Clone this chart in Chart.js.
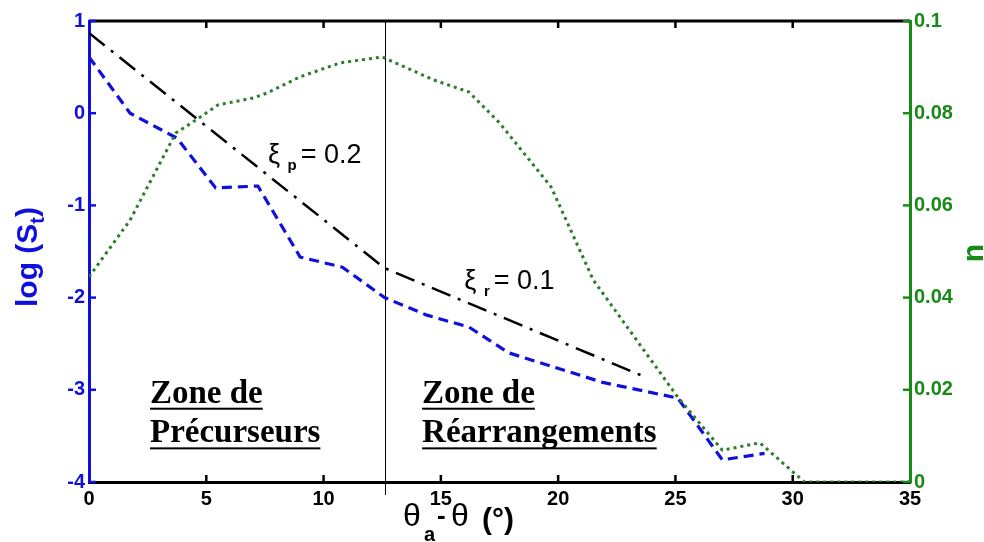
<!DOCTYPE html>
<html>
<head>
<meta charset="utf-8">
<script src="https://cdn.jsdelivr.net/npm/chart.js@4.4.1/dist/chart.umd.min.js"></script>
<style>
  html, body { margin: 0; padding: 0; background: #fff; }
</style>
</head>
<body>
<canvas id="chart" width="984" height="542"></canvas>
<script>
// angle theta_a - theta (deg) / log(St) , dashed blue
const angleSt = [0, 1.75, 3.75, 5.4, 7.2, 9.0, 10.8, 12.6, 14.4, 16.2, 17.9, 21.9, 25.1, 27.0, 28.8];
const logSt = [0.61, 0.0, -0.27, -0.81, -0.79, -1.56, -1.67, -2.0, -2.19, -2.32, -2.6, -2.92, -3.09, -3.76, -3.69];

// n (right axis), dotted green
const angleN = [0, 1.75, 3.7, 4.7, 5.5, 7.0, 7.6, 9.0, 10.7, 12.5, 14.7, 16.2, 17.5, 19.7, 21.5, 25.1, 27.0, 28.6, 30.5, 35];
const nValues = [0.0445, 0.0568, 0.0757, 0.079, 0.0818, 0.0833, 0.0844, 0.0879, 0.0909, 0.0922, 0.0872, 0.0846, 0.0779, 0.064, 0.0438, 0.0184, 0.0069, 0.0085, 0, 0];

// fitted slopes, dash-dot black
const angleFit = [0, 12.6, 23.7];
const logFit = [0.87, -1.68, -2.86];

const zoneBoundary = 12.6;

const ticksX = [0, 5, 10, 15, 20, 25, 30, 35];
const ticksLog = [-4, -3, -2, -1, 0, 1];
const ticksN = [0, 0.02, 0.04, 0.06, 0.08, 0.1];

const BLUE = '#1010dc';
const GREEN = '#178a17';

function pts(xs, ys) {
    return xs.map((v, i) => ({ x: v, y: ys[i] }));
}

function setTicks(list) {
    return function (scale) {
        scale.ticks = list.map(v => ({ value: v }));
    };
}

// texte souligne
function underlined(ctx, txt, x, y) {
    ctx.fillText(txt, x, y);
    const w = ctx.measureText(txt).width;
    ctx.fillRect(x, y + 5, w, 2);
}

// xi avec indice
function xiLabel(ctx, sub, rest, x, y) {
    ctx.font = '27px "Liberation Sans", Arial, sans-serif';
    ctx.fillText('\u03BE', x, y);
    let cx = x + ctx.measureText('\u03BE ').width;
    ctx.font = 'bold 15px "Liberation Sans", Arial, sans-serif';
    ctx.fillText(sub, cx, y + 7);
    cx += ctx.measureText(sub).width + 4;
    ctx.font = '27px "Liberation Sans", Arial, sans-serif';
    ctx.fillText(rest, cx, y);
}

const decorations = {
    id: 'decorations',
    beforeDatasetsDraw(chart) {
        const { ctx, chartArea: { top, bottom }, scales: { x } } = chart;
        ctx.save();
        // ligne verticale entre les zones
        const xb = Math.round(x.getPixelForValue(zoneBoundary)) + 0.5;
        ctx.strokeStyle = '#000';
        ctx.lineWidth = 1;
        ctx.beginPath();
        ctx.moveTo(xb, top);
        ctx.lineTo(xb, bottom + 13);
        ctx.stroke();
        ctx.restore();
    },
    afterDraw(chart) {
        const { ctx, chartArea: { left, right, top, bottom }, scales: { x, y, y2 } } = chart;
        ctx.save();
        // cadre haut
        ctx.strokeStyle = '#000';
        ctx.lineWidth = 3;
        ctx.beginPath();
        ctx.moveTo(left, top);
        ctx.lineTo(right, top);
        ctx.stroke();

        // ticks vers l'interieur
        ctx.lineWidth = 2.5;
        ticksX.forEach(v => {
            if (v === 0 || v === 35) return;
            const px = x.getPixelForValue(v);
            ctx.beginPath();
            ctx.moveTo(px, bottom);
            ctx.lineTo(px, bottom - 7);
            ctx.moveTo(px, top);
            ctx.lineTo(px, top + 7);
            ctx.stroke();
        });
        ctx.strokeStyle = BLUE;
        ticksLog.forEach(v => {
            const py = y.getPixelForValue(v);
            ctx.beginPath();
            ctx.moveTo(left, py);
            ctx.lineTo(left + 7, py);
            ctx.stroke();
        });
        ctx.strokeStyle = GREEN;
        ticksN.forEach(v => {
            const py = y2.getPixelForValue(v);
            ctx.beginPath();
            ctx.moveTo(right, py);
            ctx.lineTo(right - 7, py);
            ctx.stroke();
        });

        // annotations
        ctx.fillStyle = '#000';
        ctx.textBaseline = 'alphabetic';
        ctx.textAlign = 'left';
        xiLabel(ctx, 'p', '= 0.2', x.getPixelForValue(7.63), y.getPixelForValue(-0.54));
        xiLabel(ctx, 'r', '= 0.1', x.getPixelForValue(16.0), y.getPixelForValue(-1.91));

        ctx.font = 'bold 33px "Liberation Serif", "Times New Roman", serif';
        const l1 = y.getPixelForValue(-3.14);
        const l2 = y.getPixelForValue(-3.57);
        underlined(ctx, 'Zone de', x.getPixelForValue(2.6), l1);
        underlined(ctx, 'Précurseurs', x.getPixelForValue(2.6), l2);
        underlined(ctx, 'Zone de', x.getPixelForValue(14.2), l1);
        underlined(ctx, 'Réarrangements', x.getPixelForValue(14.2), l2);

        // titre axe x : theta_a - theta (deg)
        const by = 526;
        ctx.font = '32px "Liberation Sans", Arial, sans-serif';
        ctx.fillText('\u03B8', 403, by);
        ctx.font = 'bold 20px "Liberation Sans", Arial, sans-serif';
        ctx.fillText('a', 424, 541);
        ctx.font = 'bold 26px "Liberation Sans", Arial, sans-serif';
        ctx.fillText('-', 437, by - 2);
        ctx.font = '32px "Liberation Sans", Arial, sans-serif';
        ctx.fillText('\u03B8', 451, by);
        ctx.font = 'bold 30px "Liberation Sans", Arial, sans-serif';
        ctx.fillText('(°)', 482, by + 3);

        // titre axe gauche : log (St)
        ctx.save();
        ctx.translate(37, 307);
        ctx.rotate(-Math.PI / 2);
        ctx.fillStyle = BLUE;
        ctx.font = 'bold 30px "Liberation Sans", Arial, sans-serif';
        ctx.fillText('log (S', 0, 0);
        let w = ctx.measureText('log (S').width;
        ctx.font = 'bold 20px "Liberation Sans", Arial, sans-serif';
        ctx.fillText('t', w, 7);
        w += ctx.measureText('t').width;
        ctx.font = 'bold 30px "Liberation Sans", Arial, sans-serif';
        ctx.fillText(')', w, 0);
        ctx.restore();

        // titre axe droit : n
        ctx.save();
        ctx.translate(983, 253);
        ctx.rotate(-Math.PI / 2);
        ctx.fillStyle = GREEN;
        ctx.textAlign = 'center';
        ctx.font = 'bold 30px "Liberation Sans", Arial, sans-serif';
        ctx.fillText('n', 0, 0);
        ctx.restore();

        ctx.restore();
    }
};

const tickFont = { family: '"Liberation Sans", Arial, sans-serif', size: 20, weight: 'bold' };

const config = {
    type: 'scatter',
    data: {
        datasets: [{
            data: pts(angleN, nValues),
            yAxisID: 'y2',
            showLine: true,
            borderColor: '#2a7d2a',
            borderWidth: 3,
            borderDash: [3, 4],
            pointRadius: 0,
            tension: 0
        }, {
            data: pts(angleSt, logSt),
            yAxisID: 'y',
            showLine: true,
            borderColor: BLUE,
            borderWidth: 3.2,
            borderDash: [10, 6],
            pointRadius: 0,
            tension: 0
        }, {
            data: pts(angleFit, logFit),
            yAxisID: 'y',
            showLine: true,
            borderColor: '#000',
            borderWidth: 2.5,
            borderDash: [20, 8, 3, 8],
            pointRadius: 0,
            tension: 0
        }]
    },
    options: {
        responsive: false,
        animation: false,
        layout: {
            padding: { top: 21, left: 0, right: 0, bottom: 0 }
        },
        plugins: {
            legend: { display: false },
            tooltip: { enabled: false }
        },
        scales: {
            x: {
                type: 'linear',
                min: 0,
                max: 35,
                afterBuildTicks: setTicks(ticksX),
                afterFit(scale) { scale.height = 60; },
                grid: { display: true, drawOnChartArea: false, drawTicks: false },
                border: { color: '#000', width: 3 },
                ticks: { color: '#000', font: tickFont, padding: 5, maxRotation: 0 }
            },
            y: {
                position: 'left',
                min: -4,
                max: 1,
                afterBuildTicks: setTicks(ticksLog),
                afterFit(scale) { scale.width = 89; },
                grid: { display: true, drawOnChartArea: false, drawTicks: false },
                border: { color: BLUE, width: 3 },
                ticks: { color: BLUE, font: tickFont, padding: 4 }
            },
            y2: {
                position: 'right',
                min: 0,
                max: 0.1,
                afterBuildTicks: setTicks(ticksN),
                afterFit(scale) { scale.width = 74; },
                grid: { display: true, drawOnChartArea: false, drawTicks: false },
                border: { color: GREEN, width: 3 },
                ticks: {
                    color: GREEN, font: tickFont, padding: 4,
                    callback: v => v === 0 ? '0' : String(+v.toFixed(2))
                }
            }
        }
    },
    plugins: [decorations]
};

const myChart = new Chart(document.getElementById('chart'), config);
</script>
</body>
</html>
